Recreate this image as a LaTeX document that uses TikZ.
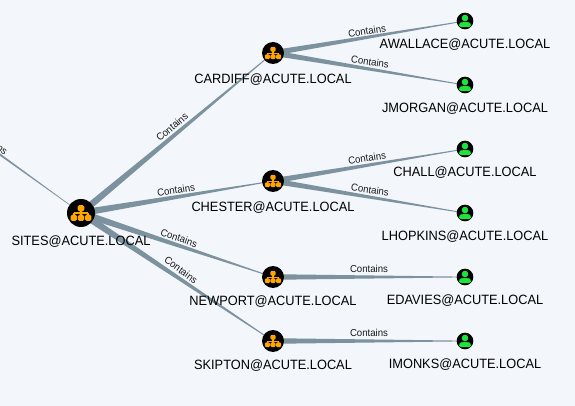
\documentclass[tikz,border=0pt]{standalone}
\usepackage{fontspec}
\setmainfont[FakeStretch=0.95]{Liberation Sans}
\usetikzlibrary{calc}
\definecolor{bgcol}{HTML}{F3F6FB}
\definecolor{edgecol}{HTML}{7C929F}
\definecolor{orangeicon}{HTML}{FFA500}
\definecolor{greenicon}{HTML}{1FE23C}
\tikzset{
  x=0.75pt,y=-0.75pt,
  namelabel/.style={font=\fontsize{10.1pt}{12pt}\selectfont,text=black,inner sep=0pt},
  edgelabel/.style={font=\fontsize{7.6pt}{9pt}\selectfont,text=black!90,inner sep=0pt},
  groupnode/.style={circle,fill=black,inner sep=0pt,minimum size=#1},
  usernode/.style={circle,fill=black,inner sep=0pt,minimum size=12.5pt},
  pics/sitemap/.style={code={
    \fill[orangeicon,rounded corners=0.1pt*#1] (-0.28*#1,-0.66*#1) rectangle (0.28*#1,-0.14*#1);
    \fill[orangeicon] (-0.07*#1,-0.2*#1) rectangle (0.07*#1,0.2*#1);
    \fill[orangeicon] (-0.6*#1,-0.05*#1) rectangle (0.6*#1,0.07*#1);
    \foreach \q in {-0.6,0,0.6}{
      \fill[orangeicon] (\q*#1-0.07*#1,0) rectangle (\q*#1+0.07*#1,0.2*#1);
      \fill[orangeicon,rounded corners=0.1pt*#1] (\q*#1-0.27*#1,0.14*#1) rectangle (\q*#1+0.27*#1,0.66*#1);
    }
  }},
  pics/person/.style={code={
    \fill[greenicon] (0,-3) circle (3.3);
    \fill[greenicon,rounded corners=2pt] (-6,6.2) -- (-6,2.6) -- (-3.6,1) -- (3.6,1) -- (6,2.6) -- (6,6.2) -- cycle;
  }}
}
\newcommand{\taperedge}[3]{\fill[edgecol] ($(#1)!#3pt!90:(#2)$) -- ($(#1)!#3pt!-90:(#2)$) -- ($(#2)!0.25pt!90:(#1)$) -- ($(#2)!0.25pt!-90:(#1)$) -- cycle;}
\begin{document}
\begin{tikzpicture}
\useasboundingbox (0,0) rectangle (575,406);
\fill[bgcol] (0,0) rectangle (575,406);
% anchors
\coordinate (far) at (-30,133);
\coordinate (sites) at (81,213);
\coordinate (cardiff) at (273,53);
\coordinate (chester) at (273,181);
\coordinate (newport) at (273,277);
\coordinate (skipton) at (273,341);
\coordinate (awallace) at (465,21);
\coordinate (jmorgan) at (465,85);
\coordinate (chall) at (465,149);
\coordinate (lhopkins) at (465,213);
\coordinate (edavies) at (465,277);
\coordinate (imonks) at (465,341);
% edges
\fill[edgecol] ($(far)!0.9pt!90:(sites)$) -- ($(far)!0.9pt!-90:(sites)$) -- ($(sites)!0.15pt!90:(far)$) -- ($(sites)!0.15pt!-90:(far)$) -- cycle;
\taperedge{sites}{cardiff}{2.6}
\taperedge{sites}{chester}{2.6}
\taperedge{sites}{newport}{2.6}
\taperedge{sites}{skipton}{2.6}
\taperedge{cardiff}{awallace}{2.1}
\taperedge{cardiff}{jmorgan}{2.1}
\taperedge{chester}{chall}{2.1}
\taperedge{chester}{lhopkins}{2.1}
\taperedge{newport}{edavies}{2.1}
\taperedge{skipton}{imonks}{2.1}
% edge labels
\node[edgelabel,rotate=-36] (l0) at (-9,141) {Contains};
\node[edgelabel,rotate=40] (l1) at (172,127) {Contains};
\node[edgelabel,rotate=9] (l2) at (176,190) {Contains};
\node[edgelabel,rotate=-19] (l3) at (179,238) {Contains};
\node[edgelabel,rotate=-36] (l4) at (181,270) {Contains};
\node[edgelabel,rotate=9] (l5) at (367,31) {Contains};
\node[edgelabel,rotate=-9] (l6) at (370,62) {Contains};
\node[edgelabel,rotate=9] (l7) at (367,158) {Contains};
\node[edgelabel,rotate=-9] (l8) at (370,190) {Contains};
\node[edgelabel] (l9) at (369,269) {Contains};
\node[edgelabel] (l10) at (369,333) {Contains};
% nodes
\node[groupnode=21pt] (nsites) at (sites) {};
\foreach \p in {cardiff,chester,newport,skipton}{\node[groupnode=16.5pt] (n\p) at (\p) {};}
\foreach \p in {awallace,jmorgan,chall,lhopkins,edavies,imonks}{\node[usernode] (n\p) at (\p) {};}
\path (sites) pic {sitemap=12};
\foreach \p in {cardiff,chester,newport,skipton}{\path (\p) pic {sitemap=9.4};}
\foreach \p in {awallace,jmorgan,chall,lhopkins,edavies,imonks}{\path (\p) pic {person};}
% names
\node[namelabel] (t1) at (81,241.5) {SITES@ACUTE.LOCAL};
\node[namelabel] (t2) at (273,79.5) {CARDIFF@ACUTE.LOCAL};
\node[namelabel] (t3) at (273,207.5) {CHESTER@ACUTE.LOCAL};
\node[namelabel] (t4) at (273,301.5) {NEWPORT@ACUTE.LOCAL};
\node[namelabel] (t5) at (273,365.5) {SKIPTON@ACUTE.LOCAL};
\node[namelabel] (t6) at (465,44.5) {AWALLACE@ACUTE.LOCAL};
\node[namelabel] (t7) at (465,108.5) {JMORGAN@ACUTE.LOCAL};
\node[namelabel] (t8) at (465,172.5) {CHALL@ACUTE.LOCAL};
\node[namelabel] (t9) at (465,236.5) {LHOPKINS@ACUTE.LOCAL};
\node[namelabel] (t10) at (465,300.5) {EDAVIES@ACUTE.LOCAL};
\node[namelabel] (t11) at (465,364.5) {IMONKS@ACUTE.LOCAL};
\end{tikzpicture}
\end{document}
